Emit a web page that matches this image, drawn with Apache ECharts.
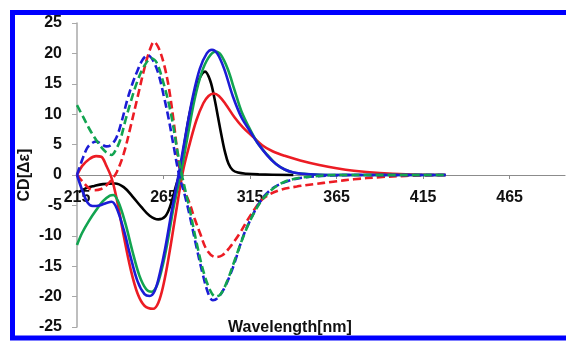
<!DOCTYPE html>
<html>
<head>
<meta charset="utf-8">
<script src="https://cdn.jsdelivr.net/npm/echarts@6/dist/echarts.min.js"></script>
<style>
html,body{margin:0;padding:0;background:#fff;}
#c{width:566px;height:342px;}
</style>
</head>
<body>
<div id="c"></div>
<script>
// X-axis tick labels (nm) and Y-axis ticks
const xTicks = [215, 265, 315, 365, 415, 465];
const yTicks = [-25, -20, -15, -10, -5, 0, 5, 10, 15, 20, 25];

// Solid black
const blackSolidWl = [216, 220, 225, 230, 237, 242, 247, 252, 257, 262, 266, 269, 272, 274.5, 277, 280, 283, 286, 289, 292, 294.5, 296.5, 298.5, 300.5, 302.5, 305, 308, 313, 320, 340];
const blackSolidCD = [-2.8, -2.2, -1.8, -1.5, -1.4, -2.0, -3.5, -5.2, -6.7, -7.3, -6.8, -5.0, -2.0, 0.5, 5.0, 10.0, 13.5, 16.0, 17.0, 15.5, 12.5, 9.5, 6.5, 3.8, 1.9, 0.8, 0.4, 0.2, 0.1, 0];

// Solid red
const redSolidWl = [215, 218, 222, 226, 229, 232, 235, 238, 242, 246, 250, 254, 259, 262, 265, 268, 272, 276, 280, 284, 288, 291, 294, 297, 301, 306, 311, 317, 322, 328, 335, 344, 355, 365, 375, 390, 405, 428];
const redSolidCD = [0, 1.5, 2.6, 3.1, 3.0, 1.5, -0.5, -4.0, -10.0, -15.5, -19.5, -21.5, -22.0, -21.0, -18.0, -13.5, -6.5, 0.3, 5.0, 9.0, 11.8, 13.0, 13.4, 13.0, 11.6, 9.5, 7.8, 6.2, 4.9, 3.9, 3.15, 2.4, 1.65, 1.1, 0.7, 0.33, 0.12, 0];

// Solid blue
const blueSolidWl = [215, 218, 221, 224, 228, 232, 235, 238, 242, 246, 250, 254, 257, 260, 263, 266, 270, 274, 278, 282, 286, 290, 293, 296, 300, 305, 310, 315, 320, 325, 330, 335, 340, 345, 350, 360, 428];
const blueSolidCD = [0, -2.5, -4.5, -5.1, -5.0, -4.6, -4.4, -5.5, -9.0, -13.5, -17.5, -19.6, -19.9, -19.0, -16.0, -12.0, -5.5, 0.5, 7.0, 13.0, 17.5, 20.0, 20.6, 20.0, 17.5, 13.0, 9.5, 7.2, 5.0, 3.2, 1.8, 0.9, 0.4, 0.2, 0.1, 0, 0];

// Solid green
const greenSolidWl = [215, 218, 222, 226, 230, 234, 236, 239, 243, 247, 251, 255, 258, 261, 264, 267, 271, 275, 279, 283, 287, 291, 295, 298, 302, 306, 310, 315, 320, 325, 330, 335, 340, 350, 360, 428];
const greenSolidCD = [-11.5, -9.5, -7.5, -5.8, -4.3, -3.4, -3.3, -4.5, -8.0, -12.5, -16.5, -18.8, -19.2, -18.3, -15.5, -11.5, -5.0, 0.3, 6.5, 12.5, 16.8, 19.3, 20.3, 19.8, 17.5, 14.0, 10.5, 7.5, 5.0, 3.3, 1.8, 0.9, 0.4, 0.1, 0, 0];

// Dashed red
const redDashWl = [215, 218, 222, 225, 229, 232, 235, 238, 242, 246, 250, 254, 257, 259.5, 262, 265, 268, 271, 274, 277, 280, 283, 286, 290, 295, 299, 303, 309, 316, 323, 332, 342, 352, 363, 375, 390, 405, 428];
const redDashCD = [0, -1.0, -2.2, -2.5, -2.3, -1.7, -0.8, 0.5, 3.5, 8.0, 12.8, 17.6, 20.5, 21.9, 21.0, 18.5, 14.5, 8.5, 1.5, -2.5, -4.6, -7.2, -9.5, -12.3, -13.5, -13.2, -12.0, -9.6, -6.3, -3.8, -2.5, -1.9, -1.5, -1.1, -0.7, -0.35, -0.15, 0];

// Dashed blue
const blueDashWl = [215, 218, 221, 224, 226.5, 229, 232, 235, 238, 241, 244, 247, 250, 253, 256, 259, 262, 265, 268, 271, 274, 277, 280, 284, 288, 291, 293.5, 296, 300, 305, 311, 316, 321, 327, 334, 342, 350, 360, 375, 428];
const blueDashCD = [0, 2.5, 4.5, 5.3, 5.5, 5.1, 4.7, 5.0, 6.3, 9.0, 12.3, 15.0, 17.2, 19.0, 19.7, 18.8, 16.7, 13.2, 9.2, 4.5, 0, -3.0, -6.5, -11.8, -16.7, -19.6, -20.6, -20.3, -18.7, -15.3, -10.1, -6.9, -4.3, -2.4, -1.3, -0.6, -0.3, -0.1, 0, 0];

// Dashed green
const greenDashWl = [215, 219, 222.5, 226, 229, 232, 235, 237.5, 240, 243, 246, 250, 254, 258, 261, 265, 269, 273, 276, 280, 284, 288, 292, 295, 298, 302, 307, 312, 317, 322, 328, 335, 343, 352, 365, 428];
const greenDashCD = [11.5, 9.3, 7.4, 5.8, 4.6, 3.7, 3.3, 4.2, 5.8, 9.0, 12.0, 15.5, 18.0, 19.2, 18.5, 15.1, 10.5, 4.0, -0.5, -5.5, -11.0, -15.8, -19.0, -20.0, -19.6, -17.3, -13.3, -9.5, -6.4, -4.1, -2.3, -1.1, -0.5, -0.2, 0, 0];

const zip = (a, b) => a.map((x, i) => [x, b[i]]);

const RED = '#ec1c24', BLUE = '#1c1cd6', GREEN = '#12a450', BLACK = '#000000';
const DASH = [8, 4];

function line(name, wl, cd, color, dashed, z) {
  return {
    name: name,
    type: 'line',
    data: zip(wl, cd),
    smooth: 0.35,
    showSymbol: false,
    symbol: 'none',
    z: z,
    lineStyle: { color: color, width: 2.6, type: dashed ? DASH : 'solid', cap: 'butt' },
    itemStyle: { color: color }
  };
}

const GRID_TOP = 23, GRID_BOTTOM = 15, H = 342;
const plotH = H - GRID_TOP - GRID_BOTTOM;
// distance from grid bottom up to the y=0 line
const zeroOffset = plotH * (0 - yTicks[0]) / (yTicks[yTicks.length - 1] - yTicks[0]);

const chart = echarts.init(document.getElementById('c'), null, { renderer: 'canvas' });
chart.setOption({
  animation: false,
  backgroundColor: '#ffffff',
  grid: { left: 77, right: 1, top: GRID_TOP, bottom: GRID_BOTTOM, containLabel: false, outerBoundsMode: 'none' },
  xAxis: {
    type: 'value',
    min: xTicks[0],
    max: 497,
    interval: xTicks[1] - xTicks[0],
    offset: -zeroOffset,
    axisLine: { onZero: false, lineStyle: { color: '#8c8c8c', width: 1.2 } },
    axisTick: { show: true, length: 4, lineStyle: { color: '#8c8c8c' } },
    axisLabel: {
      margin: 15,
      color: '#111',
      fontFamily: 'Liberation Sans',
      fontWeight: 'bold',
      fontSize: 16,
      showMaxLabel: false,
      formatter: v => (xTicks.indexOf(v) >= 0 ? String(v) : '')
    },
    splitLine: { show: false }
  },
  yAxis: {
    type: 'value',
    min: yTicks[0],
    max: yTicks[yTicks.length - 1],
    interval: 5,
    name: 'CD[Δε]',
    nameLocation: 'middle',
    nameGap: 44,
    nameRotate: 90,
    nameMoveOverlap: false,
    nameTextStyle: { color: '#111', fontFamily: 'Liberation Sans', fontWeight: 'bold', fontSize: 16 },
    axisLine: { show: true, onZero: false, lineStyle: { color: '#a8a8a8', width: 1.5 } },
    axisTick: { show: true, length: 5, lineStyle: { color: '#a8a8a8' } },
    axisLabel: {
      margin: 15,
      color: '#111',
      fontFamily: 'Liberation Sans',
      fontWeight: 'bold',
      fontSize: 16
    },
    splitLine: { show: false }
  },
  graphic: [
    {
      type: 'text',
      left: 228,
      top: 320,
      style: { text: 'Wavelength[nm]', fill: '#111', font: 'bold 16px "Liberation Sans"' },
      z: 10
    },
    {
      type: 'rect',
      shape: { x: 12.5, y: 12.5, width: 600, height: 325.5 },
      style: { fill: 'none', stroke: '#0000ff', lineWidth: 5 },
      z: 20,
      silent: true
    }
  ],
  series: [
    line('blackSolid', blackSolidWl, blackSolidCD, BLACK, false, 2),
    line('redSolid', redSolidWl, redSolidCD, RED, false, 3),
    line('greenSolid', greenSolidWl, greenSolidCD, GREEN, false, 4),
    line('blueSolid', blueSolidWl, blueSolidCD, BLUE, false, 5),
    line('redDash', redDashWl, redDashCD, RED, true, 3),
    line('blueDash', blueDashWl, blueDashCD, BLUE, true, 4),
    line('greenDash', greenDashWl, greenDashCD, GREEN, true, 5)
  ]
});
</script>
</body>
</html>
